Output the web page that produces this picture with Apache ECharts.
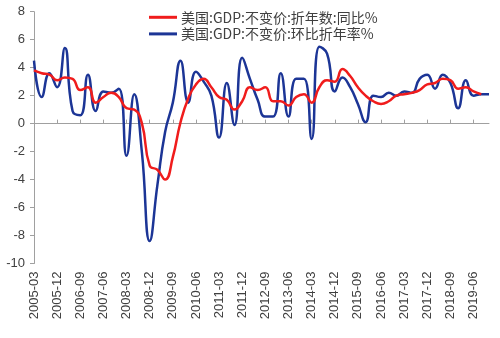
<!DOCTYPE html>
<html>
<head>
<meta charset="utf-8">
<script src="https://cdn.jsdelivr.net/npm/echarts@6/dist/echarts.min.js"></script>
<style>
html,body{margin:0;padding:0;background:#fff;}
#c{width:500px;height:338px;}
</style>
</head>
<body>
<div id="c"></div>
<script>
const categories = [
  '2005-03','2005-06','2005-09','2005-12',
  '2006-03','2006-06','2006-09','2006-12',
  '2007-03','2007-06','2007-09','2007-12',
  '2008-03','2008-06','2008-09','2008-12',
  '2009-03','2009-06','2009-09','2009-12',
  '2010-03','2010-06','2010-09','2010-12',
  '2011-03','2011-06','2011-09','2011-12',
  '2012-03','2012-06','2012-09','2012-12',
  '2013-03','2013-06','2013-09','2013-12',
  '2014-03','2014-06','2014-09','2014-12',
  '2015-03','2015-06','2015-09','2015-12',
  '2016-03','2016-06','2016-09','2016-12',
  '2017-03','2017-06','2017-09','2017-12',
  '2018-03','2018-06','2018-09','2018-12',
  '2019-03','2019-06','2019-09','2019-12'
];
const seriesNames = ['美国:GDP:不变价:折年数:同比%', '美国:GDP:不变价:环比折年率%'];
const yoy = [
  3.8, 3.6, 3.5, 3.1,
  3.3, 3.2, 2.4, 2.6,
  1.5, 1.9, 2.2, 1.9,
  1.1, 1.0, 0.0, -3.0,
  -3.3, -4.0, -2.4, 0.1,
  1.8, 2.8, 3.2, 2.6,
  1.9, 1.7, 1.0, 1.6,
  2.6, 2.4, 2.6, 1.6,
  1.6, 1.3, 1.9, 2.1,
  1.5, 2.6, 3.1, 3.0,
  3.9, 3.4, 2.6, 2.0,
  1.6, 1.4, 1.6, 2.0,
  2.1, 2.2, 2.4, 2.8,
  2.9, 3.2, 3.1, 2.5,
  2.6, 2.3, 2.1, null
];
const qoqAnnualized = [
  4.5, 1.9, 3.6, 2.6,
  5.4, 0.9, 0.6, 3.5,
  0.9, 2.3, 2.2, 2.5,
  -2.3, 2.1, -2.1, -8.4,
  -4.4, -0.6, 1.5, 4.5,
  1.5, 3.7, 3.0, 2.0,
  -1.0, 2.9, -0.1, 4.7,
  3.2, 1.7, 0.5, 0.5,
  3.6, 0.5, 3.2, 3.2,
  -1.1, 5.5, 5.0, 2.3,
  3.3, 2.6, 1.4, 0.1,
  2.0, 1.9, 2.2, 2.0,
  2.3, 2.2, 3.2, 3.5,
  2.5, 3.5, 2.9, 1.1,
  3.1, 2.0, 2.1, 2.1
];
const yMin = -10, yMax = 8, yStep = 2;

const chart = echarts.init(document.getElementById('c'), null, {renderer: 'canvas'});
const axisGray = '#a0a0a0';
const textGray = '#404040';
chart.setOption({
  animation: false,
  backgroundColor: '#ffffff',
  grid: {left: 34, right: 11, top: 11.7, bottom: 74.5},
  legend: {
    orient: 'vertical',
    left: 144,
    top: 4,
    itemGap: 0,
    itemWidth: 28,
    itemHeight: 3,
    icon: 'rect',
    textStyle: {fontFamily: '"Noto Sans CJK SC", sans-serif', fontSize: 14, color: textGray, lineHeight: 16.6, padding: [0,0,0,-1]},
    data: seriesNames
  },
  xAxis: [
    {
      type: 'category',
      data: categories,
      boundaryGap: false,
      position: 'bottom',
      axisLine: {show: false, onZero: false},
      axisTick: {show: false},
      axisLabel: {
        interval: 2,
        rotate: 90,
        margin: 8,
        fontSize: 13,
        color: textGray,
        fontFamily: '"Liberation Sans", sans-serif'
      }
    },
    {
      type: 'category',
      data: categories,
      boundaryGap: false,
      position: 'top',
      axisLine: {show: true, onZero: true, lineStyle: {color: axisGray, width: 1}},
      axisTick: {show: true, interval: 2, inside: true, length: -4, lineStyle: {color: axisGray}},
      axisLabel: {show: false}
    }
  ],
  yAxis: {
    type: 'value',
    min: yMin,
    max: yMax,
    interval: yStep,
    splitLine: {show: false},
    axisLine: {show: true, lineStyle: {color: axisGray}},
    axisTick: {show: true, length: 4, lineStyle: {color: axisGray}},
    axisLabel: {fontSize: 13, color: textGray, margin: 9, fontFamily: '"Liberation Sans", sans-serif'}
  },
  series: [
    {
      name: seriesNames[0],
      type: 'line',
      xAxisIndex: 0,
      data: yoy,
      smooth: 0.5,
      showSymbol: false,
      symbol: 'none',
      lineStyle: {color: '#f01c1c', width: 2.5},
      itemStyle: {color: '#f01c1c'},
      z: 3
    },
    {
      name: seriesNames[1],
      type: 'line',
      xAxisIndex: 0,
      data: qoqAnnualized,
      smooth: 0.5,
      showSymbol: false,
      symbol: 'none',
      lineStyle: {color: '#1c3596', width: 2.5},
      itemStyle: {color: '#1c3596'},
      z: 2
    }
  ]
});
</script>
</body>
</html>
